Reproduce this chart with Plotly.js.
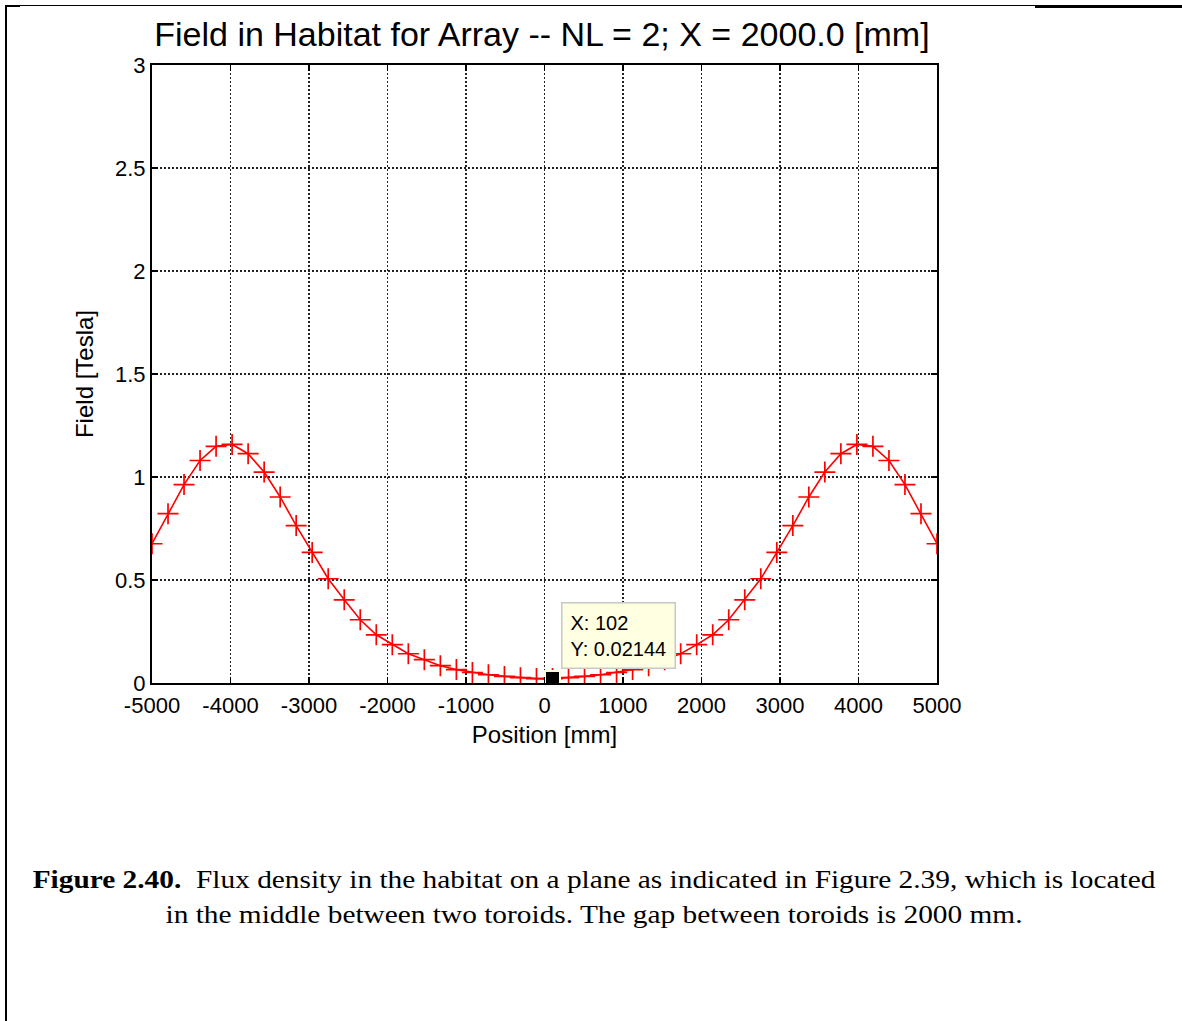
<!DOCTYPE html>
<html>
<head>
<meta charset="utf-8">
<script src="https://cdn.plot.ly/plotly-3.0.1.min.js"></script>
<style>
  html, body { margin: 0; padding: 0; background: #fff; }
  #wrap { position: relative; width: 1182px; height: 1021px; overflow: hidden; }
  #plot { position: absolute; left: 0; top: 0; width: 1182px; height: 800px; }
  #caption { position: absolute; left: 6px; width: 1176px; top: 862px;
    font-family: "Liberation Serif", "Times New Roman", serif; font-size: 25px;
    line-height: 35px; text-align: center; color: #000;
    transform: scaleX(1.174); transform-origin: 50% 50%; }
  .bl { position: absolute; background: #000; }
</style>
</head>
<body>
<div id="wrap">
  <div id="plot"></div>
  <div id="caption"><b>Figure 2.40.</b>&nbsp; Flux density in the habitat on a plane as indicated in Figure 2.39, which is located<br>in the middle between two toroids. The gap between toroids is 2000 mm.</div>
  <div class="bl" style="left:5px; top:5px; width:2px; height:1016px;"></div>
  <div class="bl" style="left:5px; top:5px; width:1030px; height:1px;"></div>
  <div class="bl" style="left:5px; top:5px; width:15px; height:2px;"></div>
  <div class="bl" style="left:1035px; top:5px; width:147px; height:3px;"></div>
</div>
<script>
// Position [mm] (50 equally spaced sample points)
const positions = [
  -5000, -4795.9, -4591.8, -4387.8, -4183.7, -3979.6, -3775.5, -3571.4, -3367.3, -3163.3,
  -2959.2, -2755.1, -2551.0, -2346.9, -2142.9, -1938.8, -1734.7, -1530.6, -1326.5, -1122.4,
  -918.4, -714.3, -510.2, -306.1, -102.0,
  102.0, 306.1, 510.2, 714.3, 918.4, 1122.4, 1326.5, 1530.6, 1734.7, 1938.8,
  2142.9, 2346.9, 2551.0, 2755.1, 2959.2, 3163.3, 3367.3, 3571.4, 3775.5, 3979.6,
  4183.7, 4387.8, 4591.8, 4795.9, 5000
];
// Field [Tesla]
const field = [
  0.676, 0.822, 0.963, 1.080, 1.149, 1.158, 1.113, 1.024, 0.903, 0.764,
  0.634, 0.506, 0.404, 0.307, 0.234, 0.186, 0.142, 0.113, 0.084, 0.065,
  0.051, 0.040, 0.032, 0.026, 0.02144,
  0.02144, 0.026, 0.032, 0.040, 0.051, 0.065, 0.084, 0.113, 0.142, 0.186,
  0.234, 0.307, 0.404, 0.506, 0.634, 0.764, 0.903, 1.024, 1.113, 1.158,
  1.149, 1.080, 0.963, 0.822, 0.676
];
// Data tip
const tipX = [102];
const tipY = [0.02144];
const tipLabel = "X: 102<br>Y: 0.02144";

const xTicks = [-5000, -4000, -3000, -2000, -1000, 0, 1000, 2000, 3000, 4000, 5000];
const yTicks = [0, 0.5, 1, 1.5, 2, 2.5, 3];
const yTickText = ["0", "0.5", "1", "1.5", "2", "2.5", "3"];

const font = "Liberation Sans, Arial, sans-serif";

const traces = [
  {
    x: positions, y: field, type: "scatter", mode: "lines+markers",
    line: { color: "#ff0000", width: 1.6 },
    marker: { symbol: "cross-thin", size: 15, line: { color: "#ff0000", width: 1.7 } },
    hoverinfo: "skip", showlegend: false
  },
  {
    x: tipX, y: tipY, type: "scatter", mode: "markers",
    marker: { symbol: "square", size: 15, color: "#000000", line: { color: "#ffffe1", width: 2 } },
    hoverinfo: "skip", showlegend: false
  }
];

const axisCommon = {
  showline: true, linecolor: "#000", linewidth: 2, mirror: "ticks",
  ticks: "inside", ticklen: 6, tickwidth: 1.5, tickcolor: "#000",
  showgrid: true, gridcolor: "#222", gridwidth: 1.5, griddash: "2px,2px",
  zeroline: false, tickfont: { family: font, size: 22, color: "#000" },
  fixedrange: true
};

const layout = {
  width: 1182, height: 800,
  margin: { l: 152, r: 245, t: 65, b: 117 },
  paper_bgcolor: "#fff", plot_bgcolor: "#fff",
  title: {
    text: "Field in Habitat for Array -- NL = 2; X = 2000.0 [mm]",
    font: { family: font, size: 34, color: "#000" },
    x: 0.4585, xanchor: "center", y: 0.958, yanchor: "middle"
  },
  xaxis: Object.assign({}, axisCommon, {
    range: [-5000, 5000], tickvals: xTicks, ticktext: xTicks.map(String),
    ticklabelstandoff: 2,
    title: { text: "Position [mm]", font: { family: font, size: 24, color: "#000" }, standoff: 9 }
  }),
  yaxis: Object.assign({}, axisCommon, {
    range: [0, 3], tickvals: yTicks, ticktext: yTickText,
    title: { text: "Field [Tesla]", font: { family: font, size: 24, color: "#000" }, standoff: 15 }
  }),
  annotations: [{
    x: tipX[0], y: tipY[0], xref: "x", yref: "y",
    text: tipLabel, showarrow: false, align: "left",
    xanchor: "left", yanchor: "bottom", xshift: 8, yshift: 10,
    font: { family: font, size: 20, color: "#000" },
    bgcolor: "#ffffe1", bordercolor: "#c8c8c8", borderwidth: 1.5, borderpad: 8
  }]
};

Plotly.newPlot("plot", traces, layout, { displayModeBar: false, staticPlot: true });
</script>
</body>
</html>
